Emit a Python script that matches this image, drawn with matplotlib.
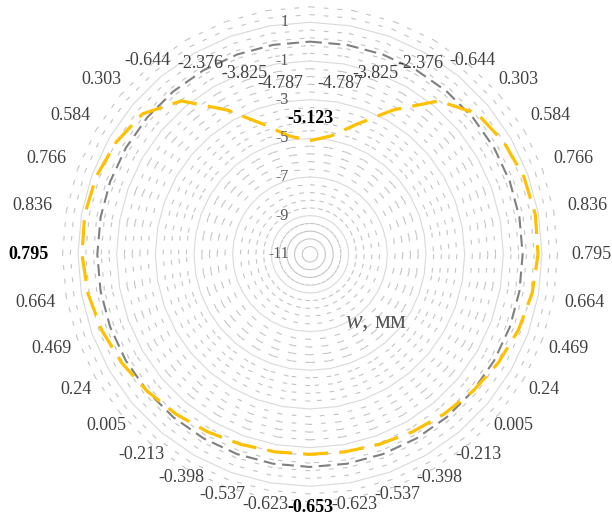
import numpy as np
import matplotlib
matplotlib.use('Agg')
import matplotlib.pyplot as plt
import matplotlib.transforms as mtransforms
from matplotlib.collections import LineCollection

plt.rcParams['font.family'] = 'Liberation Serif'
plt.rcParams['lines.scale_dashes'] = False
plt.rcParams['mathtext.fontset'] = 'custom'
plt.rcParams['mathtext.it'] = 'Liberation Serif:italic'
plt.rcParams['mathtext.rm'] = 'Liberation Serif'

# 36 directions, clockwise from top
angles_deg = np.arange(0, 360, 10)
w_values = [-5.123, -4.787, -3.825, -2.376, -0.644, 0.303, 0.584, 0.766, 0.836,
            0.795, 0.664, 0.469, 0.24, 0.005, -0.213, -0.398, -0.537, -0.623,
            -0.653, -0.623, -0.537, -0.398, -0.213, 0.005, 0.24, 0.469, 0.664,
            0.795, 0.836, 0.766, 0.584, 0.303, -0.644, -2.376, -3.825, -4.787]
zero_line = [0] * 36
bold_idx = [0, 18, 27]
r_min, r_max = -11, 1
major_ticks = [1, -1, -3, -5, -7, -9, -11]

theta = np.deg2rad(angles_deg)
theta_c = np.append(theta, theta[0])

fig = plt.figure(figsize=(6.12, 5.24), dpi=100)
ax = fig.add_axes([78/612, 37.7/524, 464/612, 464/524], projection='polar')
ax.set_theta_zero_location('N')
ax.set_theta_direction(-1)
ax.set_ylim(r_min, r_max)
ax.grid(False)
ax.spines['polar'].set_visible(False)
ax.set_xticks([])
ax.set_yticks([])

# minor rings (dashed, each side starts its own dash pattern like excel)
minor = []
for r in np.arange(-10.6, 1.9, 0.4):
    r = round(r, 1)
    if abs(r - round(r)) < 1e-6 and int(round(r)) % 2 != 0:
        continue
    minor.append(r)
segs = []
for r in minor:
    for i in range(36):
        segs.append([(theta_c[i], r), (theta_c[i+1], r)])
lc = LineCollection(segs, colors='#C4C4C4', linewidths=0.8,
                    linestyles=[(0, (3.4, 6.5))], transform=ax.transData, clip_on=False)
ax.add_collection(lc, autolim=False)

# major rings
for r in major_ticks[:-1]:
    ax.plot(theta_c, [r] * 37, color='#D9D9D9', lw=0.8, clip_on=False)

# series
ax.plot(theta_c, zero_line + [zero_line[0]], color='#808080', lw=1.5,
        linestyle=(0, (8.6, 4.7)), clip_on=False)
ax.plot(theta_c, w_values + [w_values[0]], color='#FFC000', lw=2.3,
        linestyle=(0, (18, 8)), clip_on=False)

# value axis labels
trans = mtransforms.offset_copy(ax.transData, fig=fig, x=-21, y=0, units='dots')
for v in major_ticks:
    ax.text(0, v, str(v), transform=trans, ha='right', va='center',
            fontsize=11.5, color='#595959')

# data labels
label_r = np.array(w_values) + 2.75
label_r[0] = w_values[0] + 1.15
for i, v in enumerate(w_values):
    bold = i in bold_idx
    ax.text(theta[i], label_r[i], f"{v:g}", ha='center', va='center',
            fontsize=13, color='#000000' if bold else '#404040',
            fontweight='bold' if bold else 'normal')

fig.text(345/612, 1 - 328/524, r"$w$, мм", fontsize=18, color='#595959',
         ha='left', va='baseline')

fig.savefig('out.png', dpi=100, facecolor='white')
